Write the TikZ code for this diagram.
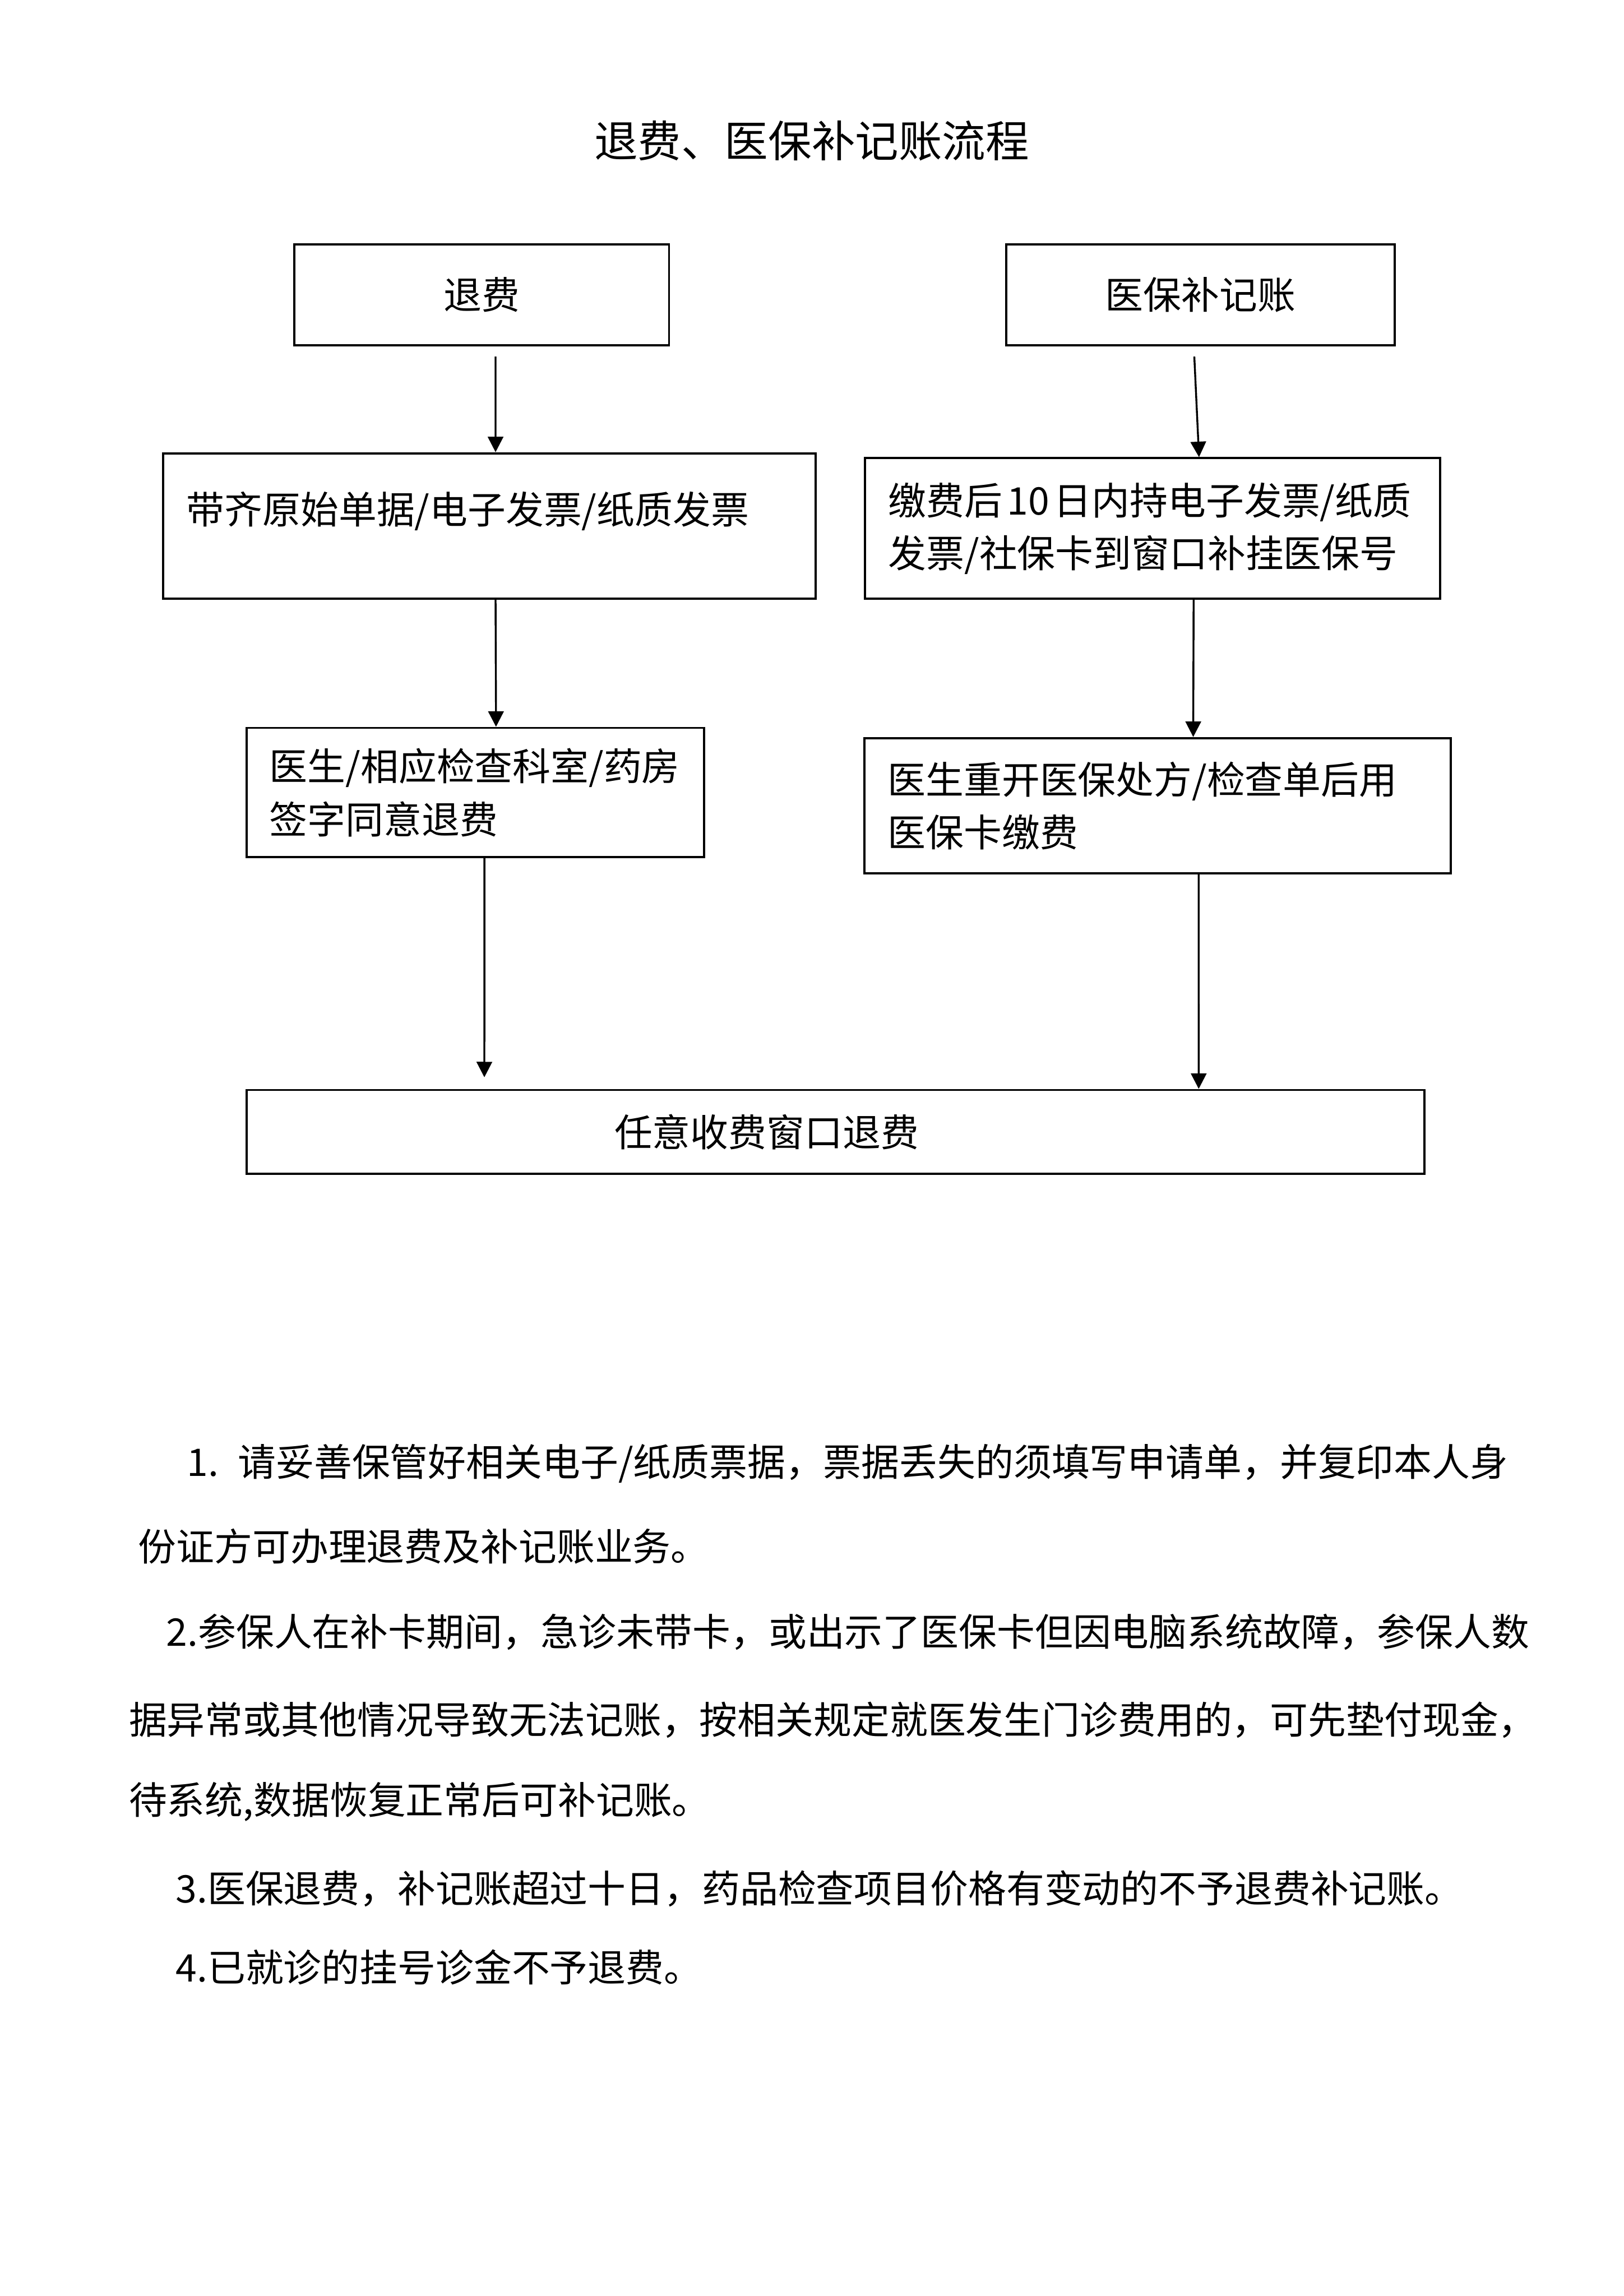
\documentclass[tikz,border=0pt]{standalone}
\usepackage{fontspec}
\setmainfont{Noto Sans CJK SC}
\usetikzlibrary{arrows.meta}

\begin{document}
\begin{tikzpicture}[
  box/.style={rectangle, draw=black, line width=0.8pt, inner xsep=0.3cm, inner ysep=0pt,
              font=\fontsize{14pt}{19.5pt}\selectfont},
  zhu/.style={anchor=west, inner sep=0pt, font=\fontsize{14pt}{19.5pt}\selectfont},
  arr/.style={-{Triangle[length=2mm, width=2mm]}, line width=0.7pt}
]
\useasboundingbox (0,0) rectangle (21,-29.7);

\node[font=\fontsize{16pt}{20pt}\selectfont] (title) at (10.5,-1.82) {退费、医保补记账流程};

\node[box, minimum width=4.848cm, minimum height=1.307cm, text width=4.248cm, align=center] (tf) at (6.23,-3.815) {退费};
\node[box, minimum width=5.028cm, minimum height=1.307cm, text width=4.428cm, align=center] (yb) at (15.528,-3.815) {医保补记账};
\node[box, minimum width=8.434cm, minimum height=1.882cm, text width=7.834cm, align=left, text depth=0.47cm] (dq) at (6.33,-6.804) {带齐原始单据/电子发票/纸质发票};
\node[box, minimum width=7.436cm, minimum height=1.818cm, text width=6.836cm, align=left] (jf) at (14.909,-6.836) {缴费后\kern0.12em 10\kern0.12em 日内持电子发票/纸质\\发票/社保卡到窗口补挂医保号};
\node[box, minimum width=5.917cm, minimum height=1.672cm, text width=5.317cm, align=left] (qz) at (6.146,-10.251) {医生/相应检查科室/药房\\签字同意退费};
\node[box, minimum width=7.582cm, minimum height=1.75cm, text width=6.982cm, align=left] (ck) at (14.974,-10.422) {医生重开医保处方/检查单后用\\医保卡缴费};
\node[box, minimum width=15.235cm, minimum height=1.084cm, text width=14.635cm, align=left] (sf) at (10.805,-14.641) {\hspace*{4.46cm}任意收费窗口退费};

\draw[arr] ([xshift=0.18cm,yshift=-0.13cm]tf.south) -- ([xshift=0.08cm]dq.north);
\draw[arr] ([xshift=-0.08cm,yshift=-0.13cm]yb.south) -- ([xshift=0.6cm]jf.north);
\draw[arr] ([xshift=0.08cm]dq.south) -- ([xshift=0.27cm]qz.north);
\draw[arr] ([xshift=0.53cm]jf.south) -- ([xshift=0.46cm]ck.north);
\draw[arr] ([xshift=0.12cm]qz.south) -- ([xshift=-4.54cm,yshift=0.15cm]sf.north);
\draw[arr] ([xshift=0.53cm]ck.south) -- ([xshift=4.7cm]sf.north);

\node[zhu] (n1) at (2.411,-18.93) {1.\hspace{0.25cm}请妥善保管好相关电子/纸质票据，票据丢失的须填写申请单，并复印本人身};
\node[zhu] (n2) at (1.782,-20.0) {份证方可办理退费及补记账业务。};
\node[zhu] (n3) at (2.145,-21.11) {2.参保人在补卡期间，急诊未带卡，或出示了医保卡但因电脑系统故障，参保人数};
\node[zhu] (n4) at (1.661,-22.25) {据异常或其他情况导致无法记账，按相关规定就医发生门诊费用的，可先垫付现金，};
\node[zhu] (n5) at (1.661,-23.31) {待系统,数据恢复正常后可补记账。};
\node[zhu] (n6) at (2.267,-24.43) {3.医保退费，补记账超过十日，药品检查项目价格有变动的不予退费补记账。};
\node[zhu] (n7) at (2.267,-25.45) {4.已就诊的挂号诊金不予退费。};
\end{tikzpicture}
\end{document}
